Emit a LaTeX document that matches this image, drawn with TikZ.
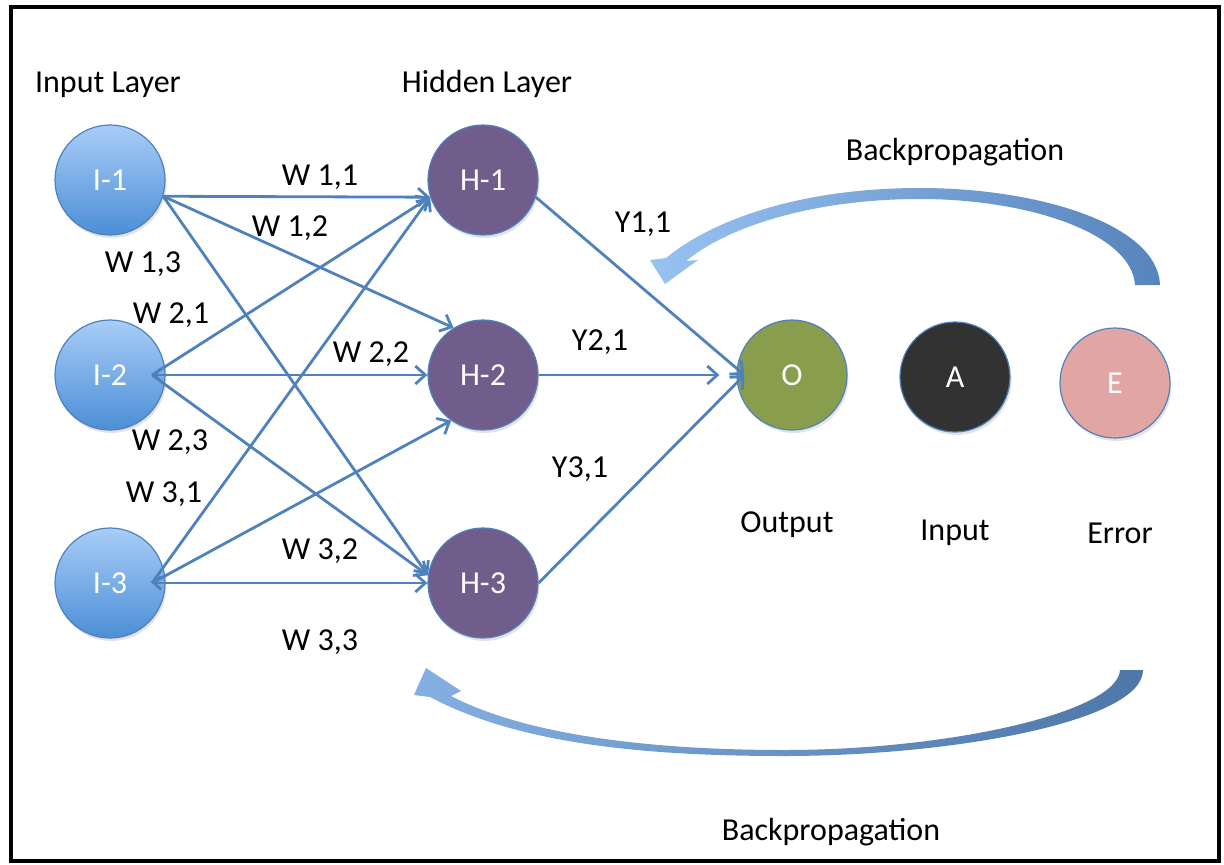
\documentclass[tikz,border=0pt]{standalone}
\usepackage{fontspec}
\setmainfont{Carlito}
\usetikzlibrary{arrows.meta,shadows}
\definecolor{nnLine}{RGB}{79,129,189}
\definecolor{nnBlueTop}{RGB}{168,205,247}
\definecolor{nnBlueBot}{RGB}{76,142,214}
\definecolor{nnPurple}{RGB}{113,93,140}
\definecolor{nnOlive}{RGB}{137,158,77}
\definecolor{nnDark}{RGB}{50,50,50}
\definecolor{nnPink}{RGB}{225,166,163}
\definecolor{nnArrowLight}{RGB}{152,194,242}
\definecolor{nnArrowDark}{RGB}{86,132,188}
\tikzset{
  neuron/.style={
    circle, minimum size=110pt, inner sep=0pt, draw=nnLine, line width=1.2pt,
    text=white, font=\fontsize{32}{36}\selectfont,
    drop shadow={opacity=0.22, shadow xshift=1.5pt, shadow yshift=-3pt}},
  inneuron/.style={neuron, top color=nnBlueTop, bottom color=nnBlueBot},
  hidneuron/.style={neuron, fill=nnPurple},
  lbl/.style={anchor=base, inner sep=0pt, text=black, font=\fontsize{32}{36}\selectfont},
  wire/.style={draw=nnLine, line width=2.8pt, -{Straight Barb[length=10pt,width=18pt]}},
  backtip/.style={{Straight Barb[length=7pt,width=13pt]}-{Straight Barb[length=10pt,width=18pt]}}
}
\begin{document}
\begin{tikzpicture}[x=1pt, y=-1pt]
    \useasboundingbox (0,0) rectangle (1224,865);
    \draw[line width=3.5pt] (11,7) rectangle (1219,861);

    % layer titles
    \node[lbl] (tin)  at (108,92)  {Input Layer};
    \node[lbl] (thid) at (487,92)  {Hidden Layer};

    % neurons
    \node[inneuron] (I1) at (110,180) {I-1};
    \node[inneuron] (I2) at (110,375) {I-2};
    \node[inneuron] (I3) at (110,583) {I-3};
    \node[hidneuron] (H1) at (483,180) {H-1};
    \node[hidneuron] (H2) at (483,375) {H-2};
    \node[hidneuron] (H3) at (483,583) {H-3};
    \node[neuron, fill=nnOlive] (O) at (792,375) {O};
    \node[neuron, fill=nnDark]  (A) at (955,377) {A};
    \node[neuron, fill=nnPink]  (E) at (1115,383) {E};

    % input -> hidden
    \draw[wire] (I1.-17) -- (H1.198);
    \draw[wire] (I1.-17) -- (H2.122);
    \draw[wire] (I1.-17) -- (H3.172);
    \draw[wire] ([xshift=42pt]I2.center) -- (H1.198);
    \draw[wire, backtip] ([xshift=42pt]I2.center) -- (H2.west);
    \draw[wire] ([xshift=42pt]I2.center) -- (H3.172);
    \draw[wire] ([xshift=42pt]I3.center) -- (H1.198);
    \draw[wire] ([xshift=42pt]I3.center) -- (H2.235);
    \draw[wire, backtip] ([xshift=42pt]I3.center) -- (H3.west);

    % hidden -> output
    \draw[wire] (H1.-18) -- ([xshift=8pt]O.west);
    \draw[wire, shorten >=17pt] (H2.east) -- (O.west);
    \draw[wire] (H3.east) -- ([xshift=8pt]O.west);

    % weights
    \node[lbl] (w11) at (320,185) {W 1,1};
    \node[lbl] (w12) at (290,236) {W 1,2};
    \node[lbl] (w13) at (143,272) {W 1,3};
    \node[lbl] (w21) at (171,323) {W 2,1};
    \node[lbl] (w22) at (371,362) {W 2,2};
    \node[lbl] (w23) at (170,450) {W 2,3};
    \node[lbl] (w31) at (164,502) {W 3,1};
    \node[lbl] (w32) at (320,559) {W 3,2};
    \node[lbl] (w33) at (320,650) {W 3,3};
    \node[lbl] (y11) at (643,232) {Y1,1};
    \node[lbl] (y21) at (600,350) {Y2,1};
    \node[lbl] (y31) at (580,477) {Y3,1};

    \node[lbl] (tout) at (787,532) {Output};
    \node[lbl] (tact) at (955,540) {Input};
    \node[lbl] (terr) at (1120,543) {Error};

    % backpropagation arrows
    \node[lbl] (bptop) at (955,160) {Backpropagation};
    \shade[left color=nnArrowLight, right color=nnArrowDark]
      (1160,285) .. controls (1158,225) and (1040,188) .. (920,188)
      .. controls (800,188) and (712,220) .. (666,258)
      -- (650,260) -- (665,284) -- (698,260) -- (686,261)
      .. controls (726,228) and (810,199) .. (920,199)
      .. controls (1030,199) and (1132,234) .. (1135,285) -- cycle;

    \node[lbl] (bpbot) at (831,840) {Backpropagation};
    \shade[left color=nnArrowLight!70!nnArrowDark, right color=nnArrowDark!90!black]
      (430,697) .. controls (520,745) and (650,756) .. (784,756)
      .. controls (950,756) and (1143,722) .. (1143,670)
      -- (1120,670)
      .. controls (1118,712) and (950,750) .. (784,750)
      .. controls (660,750) and (530,737) .. (451,696)
      -- (461,691) -- (426,668) -- (414,695) -- cycle;
\end{tikzpicture}
\end{document}
